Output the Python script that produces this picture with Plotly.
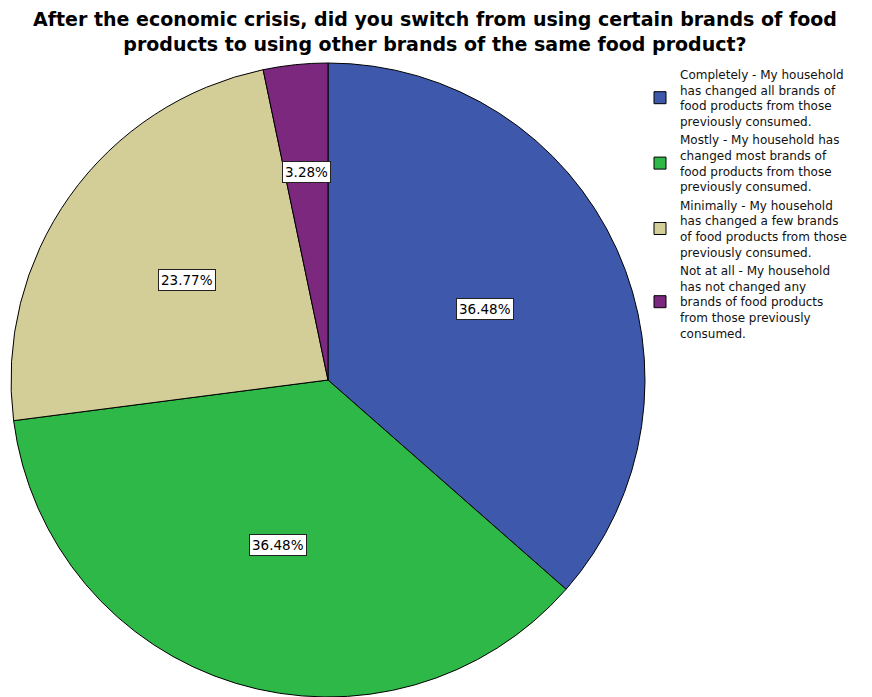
import math
import plotly.graph_objects as go

# Survey answers and their shares (percent of households)
categories = [
    "Completely - My household<br>has changed all brands of<br>food products from those<br>previously consumed.",
    "Mostly - My household has<br>changed most brands of<br>food products from those<br>previously consumed.",
    "Minimally - My household<br>has changed a few brands<br>of food products from those<br>previously consumed.",
    "Not at all - My household<br>has not changed any<br>brands of food products<br>from those previously<br>consumed.",
]
shares = [36.48, 36.48, 23.77, 3.28]
colors = ["#3E58AC", "#2EB848", "#D3CE98", "#7B287E"]

title_text = ("After the economic crisis, did you switch from using certain brands of food<br>"
              "products to using other brands of the same food product?")

W, H = 872, 697
FONT = "DejaVu Sans, Arial, sans-serif"

# Pie placement in pixels (centre and radius)
cx, cy, R = 328, 380, 317

fig = go.Figure(go.Pie(
    labels=categories,
    values=shares,
    sort=False,
    direction="clockwise",
    rotation=0,
    marker=dict(colors=colors, line=dict(color="#000000", width=1)),
    textinfo="none",
    hoverinfo="label+percent",
    domain=dict(x=[(cx - R) / W, (cx + R) / W], y=[0, 2 * R / H]),
))

# Percentage labels in boxes, placed at each slice's mid-angle
annotations = []
total = sum(shares)
cum = 0.0
for v in shares:
    mid = (cum + v / 2) / total * 2 * math.pi  # clockwise from 12 o'clock
    cum += v
    rf = 0.66 if v / total < 0.05 else 0.545
    px = cx + math.sin(mid) * R * rf
    py = cy - math.cos(mid) * R * rf
    annotations.append(dict(
        x=px / W, y=1 - py / H, xref="paper", yref="paper",
        text=f"{v:.2f}%", showarrow=False,
        font=dict(family=FONT, size=13.5, color="#000000"),
        bgcolor="#FFFFFF", bordercolor="#222222", borderwidth=1, borderpad=2,
        xanchor="center", yanchor="middle",
    ))

# Two-line chart title
annotations.append(dict(
    x=0.499, y=1 - 6 / H, xref="paper", yref="paper",
    xanchor="center", yanchor="top", showarrow=False,
    text=title_text, align="center",
    font=dict(family=FONT, size=19, color="#000000", weight="bold"),
))

fig.update_layout(
    width=W, height=H,
    margin=dict(l=0, r=0, t=0, b=0),
    paper_bgcolor="#FFFFFF",
    plot_bgcolor="#FFFFFF",
    legend=dict(
        x=640 / W, xanchor="left", y=1 - 60 / H, yanchor="top",
        font=dict(family=FONT, size=12, color="#111111"),
        bgcolor="rgba(0,0,0,0)",
        itemclick=False, itemdoubleclick=False,
    ),
    annotations=annotations,
    showlegend=True,
)

fig.write_html("out.html")
